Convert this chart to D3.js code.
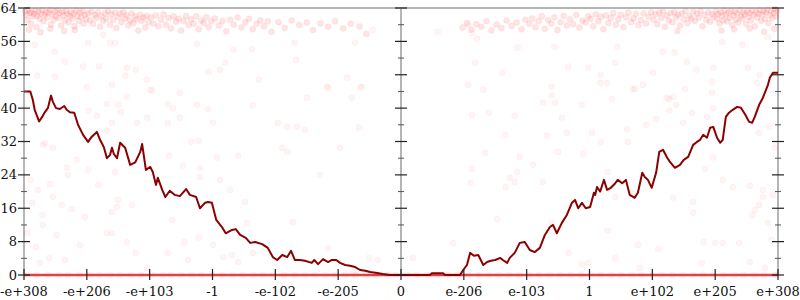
<!DOCTYPE html>
<html><head><meta charset="utf-8">
<script src="https://cdn.jsdelivr.net/npm/d3@7"></script>
<style>body{margin:0;background:#fff}svg{display:block}text{font-family:"DejaVu Serif",serif;font-size:13px;fill:#111}</style>
</head><body><svg id="c" width="800" height="300"></svg>
<script>
// x is measured in tick-index units of the ordered-float axis (-6 .. 6)
const xTickPos = [-6,-5,-4,-3,-2,-1,0,1,2,3,4,5,6];
const xTickLabels = ["-e+308","-e+206","-e+103","-1","-e-102","-e-205","0","e-206","e-103","1","e+102","e+205","e+308"];
const yMajorTicks = [0,8,16,24,32,40,48,56,64];
const yMinorTicks = [4,12,20,28,36,44,52,60];

// average error line (bits)
const lineX = [-6.00,-5.90,-5.86,-5.83,-5.76,-5.71,-5.67,-5.62,-5.57,-5.54,-5.49,-5.43,-5.36,-5.32,-5.27,-5.20,-5.14,-5.06,-4.98,-4.93,-4.84,-4.79,-4.73,-4.68,-4.63,-4.60,-4.57,-4.52,-4.47,-4.39,-4.31,-4.23,-4.15,-4.12,-4.06,-3.99,-3.95,-3.90,-3.87,-3.80,-3.75,-3.68,-3.60,-3.52,-3.42,-3.36,-3.26,-3.20,-3.12,-3.07,-3.01,-2.94,-2.85,-2.79,-2.69,-2.63,-2.56,-2.47,-2.40,-2.32,-2.21,-2.12,-2.04,-1.97,-1.89,-1.81,-1.75,-1.69,-1.61,-1.53,-1.42,-1.38,-1.32,-1.24,-1.16,-1.10,-1.03,-0.97,-0.89,-0.81,-0.73,-0.65,-0.57,-0.49,-0.38,-0.29,-0.18,0.00,0.46,0.49,0.67,0.70,0.94,0.99,1.05,1.10,1.16,1.23,1.31,1.37,1.43,1.50,1.58,1.62,1.69,1.73,1.81,1.89,1.97,2.05,2.13,2.21,2.29,2.37,2.42,2.48,2.56,2.64,2.72,2.77,2.82,2.88,2.94,3.01,3.07,3.09,3.12,3.17,3.23,3.28,3.34,3.41,3.45,3.52,3.58,3.64,3.72,3.77,3.84,3.88,3.93,3.99,4.06,4.11,4.17,4.23,4.28,4.36,4.44,4.50,4.57,4.65,4.71,4.76,4.81,4.87,4.92,4.97,5.03,5.08,5.12,5.17,5.22,5.28,5.35,5.41,5.48,5.54,5.59,5.63,5.70,5.76,5.84,5.87,5.92,6.00];
const lineY = [44,44,42,39.6,36.8,37.9,39,40,43,41.5,40,39.8,40.5,39.6,39,38.9,36,33.6,31.9,33,34.3,32.4,30.7,28,28.8,30.5,29,28,31.7,30.5,26.4,27,29.5,31.4,25.2,25.9,24.7,21.6,23.3,20.4,18.7,20.2,19.2,18.9,20.6,19.2,18.7,16,17.3,17.5,17.3,13.2,11.5,10,10.8,11,9.6,8.9,7.7,7.9,7.4,6.5,4.3,3.6,4.8,4.3,5.8,3.6,3.6,3.4,2.9,3.6,2.6,3.8,3.1,3.6,3.6,2.9,2.4,2.2,1.9,1.2,1.0,0.7,0.5,0.24,0,0,0,0.4,0.4,0,0,1.2,2.4,5.3,4.6,4.8,2.4,3.1,3.4,3.6,4.1,3.6,2.9,4.1,5.3,7.7,7.9,6,5.5,6.5,9.6,11.5,12,10,12.5,14.4,17.3,18,16,17.3,16,16.3,19.7,19.2,21.1,20,22.8,20.4,20.9,22,22.8,22,22.8,19.2,18.5,19.7,24.5,23.5,22.8,20.9,24.5,29.5,30,28.3,27.1,25.7,26.4,27.6,28.3,31.2,31.9,32.4,33.6,32.9,35.3,35.5,32.9,31.7,32.4,37.9,38.9,39.6,40.3,40.1,38.4,36.7,36.5,37.9,40.8,42.5,45.6,47.3,48.5,48.5];

// sampled points with error > 0 [x, bits] — dense clouds near the top
const leftCloud = [[-5.98,63.2],[-5.96,62.4],[-5.95,61.1],[-5.93,63.6],[-5.91,62.8],[-5.89,60.2],[-5.88,63.0],[-5.86,61.9],[-5.84,62.6],[-5.82,63.4],[-5.80,59.4],[-5.79,62.1],[-5.77,63.1],[-5.75,61.4],[-5.73,62.7],[-5.71,63.5],[-5.69,60.8],[-5.67,62.3],[-5.65,63.0],[-5.63,61.7],[-5.61,62.9],[-5.59,63.6],[-5.57,60.0],[-5.55,62.5],[-5.53,61.2],[-5.51,63.2],[-5.49,62.0],[-5.47,63.4],[-5.45,61.6],[-5.43,62.8],[-5.41,59.8],[-5.39,63.1],[-5.37,62.2],[-5.35,61.0],[-5.33,63.3],[-5.31,62.6],[-5.29,60.6],[-5.27,62.0],[-5.25,63.0],[-5.23,61.5],[-5.21,62.7],[-5.19,58.7],[-5.17,63.4],[-5.15,62.1],[-5.13,60.9],[-5.11,62.9],[-5.09,61.8],[-5.07,63.2],[-5.05,60.3],[-5.03,62.4],[-5.01,61.3],[-5.92,58.8],[-5.74,58.2],[-5.58,59.0],[-5.36,58.5],[-5.20,59.6],
[-4.98,62.7],[-4.95,61.0],[-4.93,63.1],[-4.90,60.2],[-4.87,62.3],[-4.85,61.6],[-4.82,63.0],[-4.79,59.5],[-4.77,62.0],[-4.74,60.9],[-4.71,62.8],[-4.69,61.4],[-4.66,63.2],[-4.63,60.0],[-4.61,62.5],[-4.58,61.2],[-4.55,62.9],[-4.53,59.2],[-4.50,61.8],[-4.47,62.6],[-4.45,60.6],[-4.42,63.0],[-4.39,61.5],[-4.37,62.2],[-4.34,59.8],[-4.31,61.0],[-4.29,62.7],[-4.26,60.4],[-4.23,62.0],[-4.21,61.3],[-4.18,58.6],[-4.15,62.4],[-4.13,60.9],[-4.10,61.7],[-4.07,59.3],[-4.05,62.1],[-4.02,60.6],
[-3.98,61.8],[-3.94,60.3],[-3.90,62.2],[-3.86,59.6],[-3.82,61.2],[-3.78,62.5],[-3.74,60.0],[-3.70,61.6],[-3.66,59.1],[-3.62,62.0],[-3.58,60.7],[-3.54,61.4],[-3.50,58.6],[-3.46,60.9],[-3.42,62.1],[-3.38,59.9],[-3.34,61.3],[-3.30,60.2],[-3.26,62.0],[-3.22,58.9],[-3.18,61.0],[-3.14,60.4],[-3.10,61.8],[-3.06,59.4],[-3.02,60.8],
[-2.96,61.5],[-2.90,59.8],[-2.84,60.9],[-2.78,58.4],[-2.72,61.2],[-2.66,60.0],[-2.60,61.7],[-2.54,59.3],[-2.48,60.6],[-2.42,61.4],[-2.36,58.9],[-2.30,60.2],[-2.24,61.0],[-2.18,59.6],[-2.12,60.8],[-2.06,58.3],
[-1.95,60.6],[-1.85,59.2],[-1.74,61.0],[-1.62,59.9],[-1.50,60.5],[-1.40,58.7],[-1.28,60.3],[-1.16,59.5],[-1.05,60.8],[-0.92,59.1],[-0.80,60.2],[-0.66,59.6],[-0.55,57.8]];
const rightCloud = [[0.98,59.3],[1.05,60.4],[1.12,58.8],[1.20,60.1],[1.28,59.5],[1.36,60.8],[1.44,58.6],[1.52,60.0],[1.60,59.2],[1.68,61.0],[1.76,59.7],[1.84,60.5],[1.92,58.9],[1.98,61.2],
[2.04,60.2],[2.09,61.5],[2.14,59.4],[2.19,60.8],[2.24,62.0],[2.29,59.0],[2.34,61.1],[2.39,60.3],[2.44,61.8],[2.49,58.7],[2.54,60.6],[2.59,62.1],[2.64,59.8],[2.69,61.3],[2.74,60.1],[2.79,62.3],[2.84,59.3],[2.89,61.0],[2.94,60.5],[2.98,62.0],
[3.02,61.4],[3.06,59.6],[3.10,62.5],[3.14,60.8],[3.18,61.9],[3.22,58.9],[3.26,62.2],[3.30,60.4],[3.34,61.6],[3.38,62.8],[3.42,60.0],[3.46,61.3],[3.50,62.4],[3.54,59.4],[3.58,61.8],[3.62,62.9],[3.66,60.6],[3.70,61.5],[3.74,62.6],[3.78,59.9],[3.82,61.1],[3.86,62.7],[3.90,60.3],[3.94,61.9],[3.98,63.0],
[4.02,61.2],[4.05,62.5],[4.08,60.1],[4.11,62.9],[4.14,61.6],[4.17,63.1],[4.20,59.5],[4.23,62.2],[4.26,61.0],[4.29,62.8],[4.32,60.6],[4.35,63.0],[4.38,61.8],[4.41,62.4],[4.44,59.8],[4.47,62.7],[4.50,61.3],[4.53,63.2],[4.56,60.4],[4.59,62.0],[4.62,61.5],[4.65,63.1],[4.68,60.9],[4.71,62.6],[4.74,61.7],[4.77,63.3],[4.80,59.6],[4.83,62.3],[4.86,61.1],[4.89,63.0],[4.92,60.7],[4.95,62.5],[4.98,61.9],[4.40,58.5],
[5.01,63.2],[5.03,61.4],[5.05,62.6],[5.07,60.3],[5.09,63.0],[5.11,62.1],[5.13,61.0],[5.15,63.4],[5.17,62.4],[5.19,60.8],[5.21,62.9],[5.23,61.6],[5.25,63.3],[5.27,59.9],[5.29,62.2],[5.31,63.1],[5.33,61.2],[5.35,62.7],[5.37,60.5],[5.39,63.5],[5.41,62.0],[5.43,61.5],[5.45,63.0],[5.47,62.5],[5.49,60.2],[5.51,63.2],[5.53,61.8],[5.55,62.8],[5.57,61.0],[5.59,63.4],[5.61,62.3],[5.63,59.6],[5.65,63.1],[5.67,61.7],[5.69,62.6],[5.71,63.5],[5.73,60.9],[5.75,62.4],[5.77,63.2],[5.79,61.3],[5.81,62.9],[5.83,63.6],[5.85,60.4],[5.87,62.2],[5.89,63.3],[5.91,61.6],[5.93,62.8],[5.95,63.7],[5.97,62.0],[5.99,63.4],[5.10,58.6],[5.30,58.9],[5.55,59.1],[5.78,58.3],[5.94,59.0]];
// scattered individual samples
const sparsePoints = [[-5.83,55.2],[-5.51,53.5],[-5.35,51.1],[-5.79,47.8],[-5.51,47.5],[-5.06,50],[-4.81,50],[-5.00,45],[-4.36,49.7],[-4.22,49.2],[-4.39,47.8],[-4.04,46.8],[-4.60,45.6],[-4.36,42.7],[-3.96,44.2],[-3.52,43.7],[-3.06,48.7],[-2.88,49.2],[-2.80,50.9],[-2.67,54],[-2.37,54.2],[-3.25,55.4],[-2.26,46.8],[-1.67,51.6],[-1.50,42.5],[-0.86,47.3],[-0.78,42.5],[-1.18,45.1],[-0.62,45.1],[-0.73,55.7],[-1.69,55.7],[-0.45,58.8],[-4.98,55.7],[-4.63,55.7],[-4.55,55.7],[-4.74,57.6],[-4.68,41],[-4.50,40.8],[-4.97,39.4],[-4.46,39],[-4.84,38.2],[-4.20,36.5],[-4.60,36.5],[-4.68,34.6],[-4.04,37.7],[-3.99,44.4],[-3.71,41],[-3.63,40],[-3.52,37.7],[-3.25,40.8],[-3.07,39.8],[-2.99,36.5],[-3.71,36.5],[-3.34,31.9],[-3.22,32.2],[-2.93,28.1],[-2.59,28.6],[-2.36,40.6],[-1.96,36.5],[-1.81,35.5],[-1.66,35.5],[-1.53,34.8],[-1.89,30.5],[-1.81,29.5],[-0.65,45],[-1.16,44.9],[-0.97,30.5],[-0.67,35.3],[-1.29,24],[-5.67,31.7],[-5.70,31.2],[-5.54,30.5],[-5.16,27.6],[-5.32,25.7],[-5.30,24],[-4.98,25.2],[-4.55,24.7],[-4.82,21.6],[-5.90,22.8],[-5.78,20.4],[-5.59,21.8],[-5.54,18.7],[-3.69,28.6],[-3.47,26.2],[-3.20,25.7],[-3.20,23.5],[-2.88,22.8],[-2.72,20.4],[-5.87,17.3],[-5.40,16.8],[-5.24,15.8],[-5.03,13.9],[-5.71,14.4],[-5.70,12],[-5.48,9.6],[-5.95,10],[-5.81,6.7],[-5.60,4.1],[-5.75,2.9],[-5.35,3.6],[-5.11,7.2],[-4.68,10],[-4.60,10],[-4.60,15.1],[-4.52,16.3],[-4.50,18],[-4.28,16.8],[-4.36,7.9],[-4.22,5.3],[-4.04,1.7],[-3.71,5.3],[-3.64,13.2],[-3.45,7.9],[-3.22,8.9],[-2.99,7.2],[-3.39,3.6],[-2.83,4.3],[-2.59,3.1],[-2.69,4.8],[-2.45,12.5],[-2.48,17.5],[-2.36,5.3],[-1.72,12.7],[-1.16,6.5],[-0.76,0.7],[-0.51,4.1],[-0.37,3.6],
[0.59,58.3],[1.07,60],[1.13,58],[1.21,56.6],[1.18,50.9],[1.61,48.5],[1.07,45.6],[1.31,44.4],[1.86,54.5],[2.44,54.7],[2.66,50],[2.98,49.7],[3.18,48],[3.28,46],[3.41,50.9],[3.44,54.7],[3.69,44.6],[4.01,48.5],[4.17,53.5],[4.35,53.3],[4.55,51.1],[4.70,49.2],[4.95,46.3],[4.97,49.7],[5.52,49.7],[5.71,48],[4.52,44.6],[4.33,42.7],[4.23,42.5],[4.95,43.7],[5.11,55.9],[5.43,55.2],[5.84,56.9],[2.40,45.1],[1.13,38.4],[1.40,38.9],[1.81,38.2],[2.26,41.3],[2.45,41.3],[2.40,43],[2.56,37.7],[1.66,33.6],[1.34,29.3],[1.89,28.3],[2.10,26.4],[1.85,24.7],[1.73,23.3],[1.13,25.4],[1.11,22.1],[1.67,21.1],[1.81,22.3],[2.26,22.3],[2.32,33.4],[2.50,29.5],[2.64,34.1],[2.90,29],[3.04,34.1],[3.18,31.9],[3.29,24.7],[3.36,42.2],[2.88,40.8],[3.17,46],[3.72,44.6],[3.85,45.6],[3.90,36],[4.06,37.4],[3.60,35],[3.61,31.9],[4.27,42.2],[4.38,40.8],[4.27,39.4],[4.63,38.9],[4.49,36.5],[4.87,37.9],[4.97,40],[5.67,46],[5.70,34.1],[5.86,35.5],[5.95,30.5],[4.97,28.1],[4.84,25.4],[5.12,22.8],[5.28,21.1],[5.55,21.4],[5.76,20.4],[4.33,18.5],[1.53,13.4],[0.83,7.7],[0.19,4.1],[2.40,12.5],[2.67,5.3],[2.98,2.9],[2.88,2.6],[3.29,10.6],[3.41,4.1],[3.77,7.2],[3.80,1.7],[4.09,6.2],[4.65,17.5],[4.65,14.9],[4.79,2.9],[4.82,7.9],[5.00,7.7],[5.12,7.7],[5.38,7.7],[5.55,3.1],[5.59,14.4],[5.63,15.6],[5.70,16.8],[5.76,18.7],[5.84,12.5],[5.92,19.2],[5.90,8.4],[5.79,1.7],[3.41,18.7],[3.69,19.7]];
// sampled points with zero error
const zeroX = [-6.0,-5.8,-5.62,-5.45,-5.3,-5.12,-4.95,-4.8,-4.63,-4.47,-4.3,-4.14,-3.97,-3.8,-3.66,-3.5,-3.33,-3.17,-3.0,-2.84,-2.68,-2.52,-2.35,-2.2,-2.03,-1.86,-1.7,-1.53,-1.37,-1.2,-1.05,-0.88,-0.72,-0.55,-0.4,-0.22,-0.08,0.1,0.25,0.42,0.58,0.75,0.9,1.07,1.24,1.4,1.55,1.72,1.88,2.05,2.2,2.37,2.53,2.7,2.86,3.02,3.18,3.35,3.5,3.67,3.83,4.0,4.15,4.32,4.48,4.65,4.8,4.97,5.13,5.3,5.45,5.62,5.78,5.95,6.0];

const svg = d3.select("#c");
const x = d3.scaleLinear().domain([-6, 6]).range([24, 778]);
const y = d3.scaleLinear().domain([0, 64]).range([275, 8]);

// frame lines
const frame = svg.append("g").attr("stroke", "#b5b5b5").attr("stroke-width", 2);
[-6, 0, 6].forEach(v => frame.append("line").attr("x1", x(v)).attr("x2", x(v)).attr("y1", y(0)).attr("y2", y(64)));
frame.append("line").attr("x1", x(-6)).attr("x2", x(6)).attr("y1", y(64)).attr("y2", y(64));
frame.append("line").attr("x1", x(-6)).attr("x2", x(6)).attr("y1", y(0)).attr("y2", y(0));

// points
const cloud = svg.append("g").attr("fill", "#ff3030").attr("fill-opacity", 0.13)
  .attr("stroke", "#ff3030").attr("stroke-opacity", 0.06).attr("stroke-width", 1);
cloud.selectAll("circle").data(leftCloud.concat(rightCloud)).join("circle")
  .attr("cx", d => x(d[0])).attr("cy", d => y(d[1])).attr("r", 3);
const sparse = svg.append("g").attr("fill", "#ff3030").attr("fill-opacity", 0.05)
  .attr("stroke", "#ff3030").attr("stroke-opacity", 0.04).attr("stroke-width", 1);
sparse.selectAll("circle").data(sparsePoints).join("circle")
  .attr("cx", d => x(d[0])).attr("cy", d => y(d[1])).attr("r", 3);
sparse.selectAll("circle.z").data(zeroX).join("circle").attr("class", "z")
  .attr("cx", d => x(d)).attr("cy", y(0)).attr("r", 3.2);
svg.append("path").datum(zeroX)
  .attr("d", d3.line().x(d => x(d)).y(() => y(0)))
  .attr("fill", "none").attr("stroke", "#e43030").attr("stroke-opacity", 0.85).attr("stroke-width", 2.5);

// average line
const lineData = lineX.map((v, i) => [v, lineY[i]]);
svg.append("path").datum(lineData)
  .attr("d", d3.line().x(d => x(d[0])).y(d => y(d[1])))
  .attr("fill", "none").attr("stroke", "#8b0000").attr("stroke-width", 2).attr("stroke-linejoin", "round");

// y ticks on the three vertical axes
[-6, 0, 6].forEach(v => {
  const g = svg.append("g").attr("transform", `translate(${x(v)},0)`);
  g.selectAll("line.mj").data(yMajorTicks).join("line").attr("class", "mj")
    .attr("x1", -6).attr("x2", 6).attr("y1", d => y(d)).attr("y2", d => y(d))
    .attr("stroke", "#222").attr("stroke-width", 1.2);
  g.selectAll("line.mn").data(yMinorTicks).join("line").attr("class", "mn")
    .attr("x1", -3).attr("x2", 3).attr("y1", d => y(d)).attr("y2", d => y(d))
    .attr("stroke", "#555").attr("stroke-width", 1);
});
svg.append("g").selectAll("text").data(yMajorTicks).join("text")
  .attr("x", 17).attr("y", d => y(d)).attr("dy", "0.35em").attr("text-anchor", "end").text(d => d);

// x ticks
const xa = svg.append("g");
xa.selectAll("line").data(xTickPos).join("line")
  .attr("x1", d => x(d)).attr("x2", d => x(d)).attr("y1", y(0) - 6).attr("y2", y(0) + 5)
  .attr("stroke", "#222").attr("stroke-width", 1.2);
xa.selectAll("text").data(xTickPos).join("text")
  .attr("x", d => x(d)).attr("y", 296).attr("text-anchor", "middle").text((d, i) => xTickLabels[i]);
</script></body></html>
